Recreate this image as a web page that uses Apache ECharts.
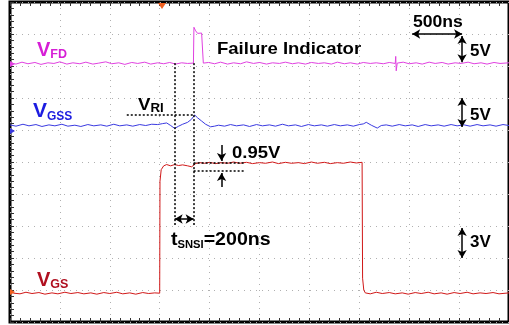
<!DOCTYPE html>
<html>
<head>
<meta charset="utf-8">
<script src="https://cdn.jsdelivr.net/npm/echarts@6/dist/echarts.min.js"></script>
<style>
  html, body { margin: 0; padding: 0; background: #fff; }
  #scope { width: 509px; height: 325px; }
</style>
</head>
<body>
<div id="scope"></div>
<script>
// time axis in ns (500 ns / div, 10 div), vertical axis in divisions (10 div)
const timeTicks = [0, 500, 1000, 1500, 2000, 2500, 3000, 3500, 4000, 4500, 5000];

// V_FD trace (magenta), [ns, div]
const vfd = [
  [0, 8.10], [60, 8.06], [120, 8.12], [180, 8.07], [250, 8.11], [310, 8.05], [380, 8.10], [440, 8.08],
  [500, 8.13], [570, 8.06], [630, 8.10], [700, 8.07], [760, 8.12], [830, 8.06], [890, 8.09], [960, 8.13],
  [1020, 8.07], [1090, 8.10], [1150, 8.05], [1220, 8.11], [1280, 8.08], [1350, 8.12], [1410, 8.06],
  [1480, 8.10], [1540, 8.07], [1600, 8.11], [1660, 8.06], [1720, 8.10], [1780, 8.08], [1838, 8.09],
  [1843, 9.21], [1860, 9.10], [1880, 9.02], [1900, 9.05], [1920, 9.03], [1933, 9.04], [1937, 8.09],
  [1990, 8.11], [2050, 8.07], [2110, 8.12], [2180, 8.06], [2240, 8.10], [2310, 8.07], [2370, 8.13],
  [2440, 8.08], [2500, 8.11], [2570, 8.06], [2630, 8.10], [2700, 8.08], [2760, 8.12], [2830, 8.07],
  [2890, 8.10], [2960, 8.06], [3020, 8.11], [3090, 8.08], [3150, 8.10], [3220, 8.06], [3280, 8.12],
  [3350, 8.07], [3410, 8.10], [3480, 8.06], [3540, 8.11], [3610, 8.08], [3670, 8.10], [3740, 8.07],
  [3800, 8.11], [3860, 8.08], [3865, 8.30], [3870, 7.85], [3880, 8.09], [3940, 8.12], [4000, 8.07],
  [4070, 8.10], [4130, 8.06], [4200, 8.12], [4260, 8.08], [4330, 8.11], [4390, 8.06], [4460, 8.10],
  [4520, 8.08], [4590, 8.12], [4650, 8.07], [4720, 8.10], [4780, 8.06], [4850, 8.11], [4910, 8.08],
  [5000, 8.10]
];

// V_GSS trace (blue)
const vgss = [
  [0, 6.16], [60, 6.12], [130, 6.18], [190, 6.13], [260, 6.17], [320, 6.11], [390, 6.16], [450, 6.13],
  [520, 6.18], [580, 6.12], [650, 6.15], [710, 6.11], [780, 6.17], [840, 6.13], [910, 6.16], [970, 6.12],
  [1040, 6.18], [1100, 6.13], [1170, 6.16], [1230, 6.12], [1300, 6.17], [1360, 6.14], [1420, 6.18],
  [1480, 6.17], [1530, 6.20], [1570, 6.22], [1610, 6.14], [1650, 6.05], [1690, 6.12], [1730, 6.18],
  [1780, 6.24], [1820, 6.34], [1850, 6.47], [1880, 6.38], [1920, 6.28], [1960, 6.18], [2010, 6.10],
  [2050, 6.12], [2090, 6.15], [2150, 6.12], [2210, 6.17], [2270, 6.13], [2340, 6.16], [2400, 6.11],
  [2470, 6.17], [2530, 6.13], [2600, 6.16], [2660, 6.12], [2730, 6.18], [2790, 6.13], [2860, 6.16],
  [2920, 6.11], [2990, 6.17], [3050, 6.13], [3120, 6.16], [3180, 6.12], [3250, 6.17], [3310, 6.13],
  [3380, 6.16], [3440, 6.12], [3500, 6.17], [3540, 6.19], [3570, 6.24], [3620, 6.15], [3680, 6.06],
  [3720, 6.14], [3770, 6.16], [3830, 6.12], [3900, 6.17], [3960, 6.13], [4030, 6.16], [4090, 6.11],
  [4160, 6.17], [4220, 6.13], [4290, 6.16], [4350, 6.12], [4420, 6.17], [4480, 6.13], [4550, 6.16],
  [4610, 6.12], [4680, 6.17], [4740, 6.13], [4810, 6.16], [4870, 6.12], [4940, 6.17], [5000, 6.14]
];

// V_GS trace (red)
const vgs = [
  [0, 0.94], [40, 0.90], [100, 0.88], [160, 0.93], [220, 0.89], [290, 0.92], [350, 0.87], [420, 0.91],
  [480, 0.88], [550, 0.93], [610, 0.89], [680, 0.92], [740, 0.88], [810, 0.91], [870, 0.87], [940, 0.92],
  [1000, 0.89], [1070, 0.93], [1130, 0.88], [1200, 0.91], [1260, 0.87], [1330, 0.92], [1390, 0.89],
  [1450, 0.91], [1500, 0.90], [1503, 4.40], [1515, 4.76], [1540, 4.88], [1570, 4.92], [1610, 4.88],
  [1650, 4.92], [1690, 4.89], [1730, 4.91], [1780, 4.88], [1820, 4.85], [1840, 4.83], [1860, 4.95],
  [1900, 4.98], [1950, 4.96], [2000, 4.99], [2060, 4.95], [2120, 4.98], [2180, 4.96], [2240, 5.00],
  [2300, 4.96], [2370, 4.99], [2430, 4.95], [2500, 4.98], [2560, 4.96], [2630, 5.00], [2690, 4.95],
  [2760, 4.99], [2820, 4.96], [2890, 4.98], [2950, 4.95], [3020, 5.00], [3080, 4.96], [3150, 4.99],
  [3210, 4.95], [3280, 4.98], [3340, 4.96], [3410, 5.00], [3470, 4.97], [3528, 4.99], [3533, 1.37],
  [3545, 1.00], [3560, 0.91], [3610, 0.88], [3670, 0.93], [3730, 0.89], [3800, 0.92], [3860, 0.88],
  [3930, 0.91], [3990, 0.87], [4060, 0.92], [4120, 0.89], [4190, 0.93], [4250, 0.88], [4320, 0.91],
  [4380, 0.87], [4450, 0.92], [4510, 0.89], [4580, 0.93], [4640, 0.88], [4710, 0.91], [4770, 0.89],
  [4840, 0.92], [4900, 0.88], [5000, 0.91]
];

// measurement cursors: [t0, v0, t1, v1]
const dottedCursors = [
  [1650, 8.09, 1650, 3.03],   // left t_SNSI cursor
  [1840, 8.09, 1840, 3.03],   // right t_SNSI cursor
  [1170, 6.47, 1840, 6.47],   // V_RI level
  [1840, 4.97, 2350, 4.97],   // 0.95V upper
  [1840, 4.72, 2350, 4.72]    // 0.95V lower
];
// double-headed arrows
const spanArrows = [
  [1650, 3.22, 1840, 3.22],   // t_SNSI
  [4030, 9.00, 4530, 9.00],   // 500ns
  [4530, 8.94, 4530, 8.12],   // 5V (V_FD)
  [4530, 7.00, 4530, 6.09],   // 5V (V_GSS)
  [4530, 2.94, 4530, 2.00]    // 3V (V_GS)
];
// single arrows, head at the second point
const pointArrows = [
  [2120, 5.53, 2120, 5.03],
  [2120, 4.22, 2120, 4.66]
];

const chart = echarts.init(document.getElementById('scope'));

const toLine = (a, s0, s1) => [
  { coord: [a[0], a[1]], symbol: s0 },
  { coord: [a[2], a[3]], symbol: s1 }
];

const ff = '"Liberation Sans", Arial, sans-serif';
const sub = (x, y, main, low, color, big, small, sx, tail) => ({
  type: 'text',
  x: x,
  y: y,
  scaleX: sx || 1,
  z: 50,
  style: {
    text: '{v|' + main + '}{s|' + low + '}' + (tail ? '{v|' + tail + '}' : ''),
    fill: color,
    textVerticalAlign: 'bottom',
    rich: {
      v: { fontSize: big, fontWeight: 'bold', fontFamily: ff, fill: color, lineHeight: big, verticalAlign: 'bottom' },
      s: { fontSize: small, fontWeight: 'bold', fontFamily: ff, fill: color, lineHeight: small, verticalAlign: 'bottom', padding: [0, 0, -1, 0] }
    }
  }
});
const label = (x, y, text, size, sx) => ({
  type: 'text',
  x: x,
  y: y,
  scaleX: sx,
  z: 50,
  style: {
    text: text,
    fill: '#000',
    font: 'bold ' + size + 'px ' + ff,
    textVerticalAlign: 'middle'
  }
});

const option = {
  animation: false,
  grid: { left: 10, top: 2, width: 500, height: 320, show: true, borderColor: '#000', borderWidth: 3, backgroundColor: '#fff' },
  xAxis: [
    {
      type: 'value', min: timeTicks[0], max: timeTicks[timeTicks.length - 1], interval: 500,
      axisLine: { show: false },
      axisTick: { show: true, inside: true, length: 4, lineStyle: { color: '#333' } },
      minorTick: { show: true, splitNumber: 5, length: 4, lineStyle: { color: '#333' } },
      axisLabel: { show: false },
      splitLine: { show: true, lineStyle: { color: '#b0b0b0', type: [1, 5] } }
    },
    {
      type: 'value', position: 'top', min: timeTicks[0], max: timeTicks[timeTicks.length - 1], interval: 500,
      axisLine: { show: false },
      axisTick: { show: true, inside: true, length: 4, lineStyle: { color: '#333' } },
      minorTick: { show: true, splitNumber: 5, length: 4, lineStyle: { color: '#333' } },
      axisLabel: { show: false },
      splitLine: { show: false }
    }
  ],
  yAxis: {
    type: 'value', min: 0, max: 10, interval: 1,
    axisLine: { show: false },
    axisTick: { show: true, inside: true, length: 4, lineStyle: { color: '#333' } },
    minorTick: { show: true, splitNumber: 5, length: 4, lineStyle: { color: '#333' } },
    axisLabel: { show: false },
    splitLine: { show: true, lineStyle: { color: '#b0b0b0', type: [1, 5] } }
  },
  series: [
    { name: 'VFD', type: 'line', data: vfd, showSymbol: false, lineStyle: { color: '#e040e0', width: 1 } },
    { name: 'VGSS', type: 'line', data: vgss, showSymbol: false, lineStyle: { color: '#3a3ae0', width: 1 } },
    { name: 'VGS', type: 'line', data: vgs, showSymbol: false, lineStyle: { color: '#d01818', width: 1 } },
    {
      name: 'cursors', type: 'line', data: [], z: 10,
      markLine: {
        silent: true, animation: false, label: { show: false },
        lineStyle: { color: '#000', width: 1.5, type: [2, 2] },
        data: dottedCursors.map(a => toLine(a, 'none', 'none'))
      }
    },
    {
      name: 'arrows', type: 'line', data: [], z: 11,
      markLine: {
        silent: true, animation: false, label: { show: false },
        symbolSize: [7, 8],
        lineStyle: { color: '#000', width: 1.5, type: 'solid' },
        data: spanArrows.map(a => toLine(a, 'arrow', 'arrow'))
          .concat(pointArrows.map(a => toLine(a, 'none', 'arrow')))
      }
    }
  ],
  graphic: [
    sub(37, 60, 'V', 'FD', '#d61ed6', 20, 12.5),
    sub(33, 122, 'V', 'GSS', '#1c1ce0', 21, 12),
    sub(37, 290, 'V', 'GS', '#b01020', 20, 12.5),
    sub(138, 114, 'V', 'RI', '#000', 17, 12, 1.1),
    sub(171, 249, 't', 'SNSI', '#000', 17.5, 10, 1.12, '=200ns'),
    label(217, 49, 'Failure Indicator', 17, 1.09),
    label(413, 23, '500ns', 16, 1.1),
    label(470, 52, '5V', 16, 1.06),
    label(470, 116, '5V', 16, 1.06),
    label(470, 243, '3V', 16, 1.06),
    label(232, 153, '0.95V', 16.5, 1.12),
    // trigger marker and channel ground markers
    { type: 'polygon', z: 60, shape: { points: [[158, 3], [166, 3], [162, 9]] }, style: { fill: '#f06020' } },
    { type: 'polygon', z: 60, shape: { points: [[10, 61], [15, 64], [10, 67]] }, style: { fill: '#e040e0' } },
    { type: 'polygon', z: 60, shape: { points: [[10, 128], [15, 131], [10, 134]] }, style: { fill: '#3a3ae0' } },
    { type: 'polygon', z: 60, shape: { points: [[10, 289], [15, 292], [10, 295]] }, style: { fill: '#f06020' } }
  ]
};
chart.setOption(option);
</script>
</body>
</html>
